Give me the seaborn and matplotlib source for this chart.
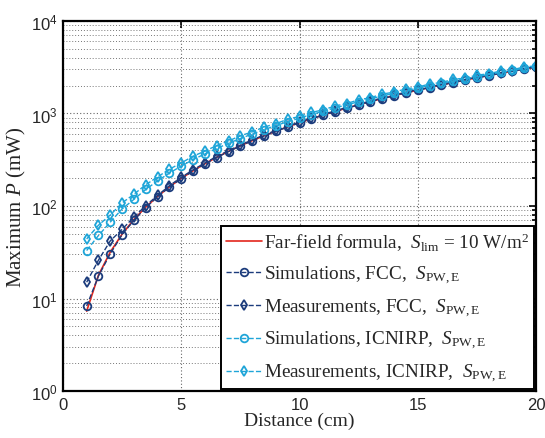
import matplotlib
matplotlib.use("Agg")
import matplotlib.pyplot as plt
import seaborn as sns
import pandas as pd
from matplotlib.ticker import FixedLocator, LogLocator, NullFormatter

# Distance grid (cm)
distance = [1.0, 1.5, 2.0, 2.5, 3.0, 3.5, 4.0, 4.5, 5.0, 5.5, 6.0, 6.5, 7.0,
            7.5, 8.0, 8.5, 9.0, 9.5, 10.0, 10.5, 11.0, 11.5, 12.0, 12.5, 13.0,
            13.5, 14.0, 14.5, 15.0, 15.5, 16.0, 16.5, 17.0, 17.5, 18.0, 18.5,
            19.0, 19.5, 20.0]

# Maximum power (mW)
far_field = [7.3, 17.9, 31.8, 49.7, 71.6, 97.4, 127, 161, 199, 240, 286, 336,
             390, 447, 509, 574, 644, 717, 795, 876, 962, 1051, 1145, 1242,
             1344, 1449, 1559, 1672, 1789, 1910, 2036, 2164, 2298, 2435, 2576,
             2721, 2870, 3023, 3180]
sim_fcc = [8.3, 17.5, 30.5, 49, 70, 96, 126, 160, 197, 239, 285, 334, 388,
           446, 507, 572, 641, 715, 792, 874, 958, 1048, 1140, 1238, 1339,
           1445, 1553, 1667, 1783, 1905, 2029, 2158, 2290, 2428, 2568, 2714,
           2862, 3015, 3170]
meas_fcc = [15, 26, 42, 56, 76, 101, 130, 166, 204, 246, 292, 343, 397, 456,
            519, 584, 656, 730, 808, 892, 976, 1068, 1162, 1262, 1364, 1472,
            1582, 1698, 1816, 1940, 2066, 2198, 2330, 2472, 2614, 2762, 2912,
            3068, 3210]
sim_icnirp = [33, 48, 67, 93, 118, 151, 187, 227, 270, 317, 366, 418, 476,
              536, 600, 667, 740, 815, 890, 972, 1058, 1150, 1240, 1340, 1440,
              1545, 1655, 1765, 1880, 2000, 2120, 2245, 2370, 2500, 2640, 2780,
              2920, 3070, 3220]
meas_icnirp = [44, 62, 80, 108, 134, 170, 206, 250, 292, 345, 392, 450, 505,
               574, 632, 712, 776, 866, 930, 1025, 1095, 1205, 1280, 1405, 1480,
               1620, 1700, 1845, 1925, 2085, 2160, 2340, 2410, 2600, 2680, 2880,
               2960, 3190, 3260]

labels = [
    r"Far-field formula,  $S_{\rm lim}$ = 10 W/m$^2$",
    r"Simulations, FCC,  $S_{\rm PW,E}$",
    r"Measurements, FCC,  $S_{\rm PW,E}$",
    r"Simulations, ICNIRP,  $S_{\rm PW,E}$",
    r"Measurements, ICNIRP,  $S_{\rm PW,E}$",
]

RED = "#e3261c"
NAVY = "#1c3c7c"
CYAN = "#1fa5d8"

sns.set_theme(style="white")
plt.rcParams["font.family"] = ["Liberation Serif", "DejaVu Serif"]
plt.rcParams["mathtext.fontset"] = "custom"
plt.rcParams["mathtext.rm"] = "Liberation Serif"
plt.rcParams["mathtext.it"] = "Liberation Serif:italic"
plt.rcParams["mathtext.bf"] = "Liberation Serif:bold"

fig, ax = plt.subplots(figsize=(5.45, 4.39), dpi=100)
fig.subplots_adjust(left=0.1156, right=0.9835, bottom=0.107, top=0.95)

ax.set_yscale("log")

sns.lineplot(x=distance, y=far_field, ax=ax, color=RED, linewidth=1.2,
             label=labels[0], sort=False)

series = [
    (sim_fcc, NAVY, "o", labels[1]),
    (meas_fcc, NAVY, "d", labels[2]),
    (sim_icnirp, CYAN, "o", labels[3]),
    (meas_icnirp, CYAN, "d", labels[4]),
]
for vals, col, mk, lab in series:
    sns.lineplot(x=distance, y=vals, ax=ax, color=col, linestyle="--",
                 linewidth=1.0, marker=mk, markersize=5.5,
                 markerfacecolor="none", markeredgecolor=col,
                 markeredgewidth=1.3, label=lab, sort=False)

ax.set_xlim(0, 20)
ax.set_ylim(1, 1e4)
ax.xaxis.set_major_locator(FixedLocator([0, 5, 10, 15, 20]))
ax.yaxis.set_major_locator(LogLocator(base=10, numticks=10))
ax.yaxis.set_minor_locator(LogLocator(base=10, subs=range(2, 10), numticks=50))
ax.yaxis.set_minor_formatter(NullFormatter())

ax.grid(True, which="major", axis="both", linestyle=(0, (1, 2)),
        color="#666666", linewidth=0.8)
ax.grid(True, which="minor", axis="y", linestyle=(0, (1, 2)),
        color="#777777", linewidth=0.7)

ax.tick_params(which="both", direction="in", top=True, right=True,
               color="black", width=1.2)
ax.tick_params(which="major", length=5, labelsize=12, pad=4)
ax.tick_params(which="minor", length=3)
for lbl in ax.get_xticklabels() + ax.get_yticklabels():
    lbl.set_fontfamily("Liberation Sans")

for sp in ax.spines.values():
    sp.set_color("black")
    sp.set_linewidth(1.6)

ax.set_xlabel("Distance (cm)", fontsize=14, labelpad=0)
ax.set_ylabel(r"Maximum $P$ (mW)", fontsize=15, labelpad=2)

leg = ax.legend(loc="lower right", fontsize=13.8, frameon=True, fancybox=False,
                edgecolor="black", framealpha=1, handlelength=1.9,
                handletextpad=0.12, labelspacing=0.56, borderpad=0.25,
                borderaxespad=0.1)
leg.get_frame().set_linewidth(1.4)

fig.savefig("out.png", dpi=100)
